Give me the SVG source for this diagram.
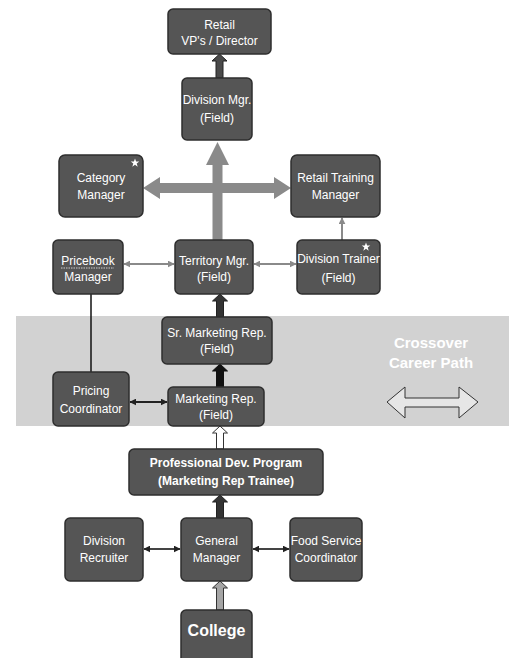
<svg xmlns="http://www.w3.org/2000/svg" width="513" height="658" viewBox="0 0 513 658">
<defs>
<style>
.box{fill:#555555;stroke:#2e2e2e;stroke-width:1.5}
.t{font-family:"Liberation Sans",Arial,sans-serif;font-size:12px;fill:#ffffff;text-anchor:middle}
.b{font-weight:bold}
.thin{stroke:#8a8a8a;stroke-width:2;fill:none}
.blk{stroke:#222;stroke-width:2;fill:none}
</style>
<marker id="ga" viewBox="0 0 10 10" refX="9" refY="5" markerWidth="3.5" markerHeight="3.5" orient="auto-start-reverse"><path d="M0,0 L10,5 L0,10 Z" fill="#8a8a8a"/></marker>
<marker id="ka" viewBox="0 0 10 10" refX="9" refY="5" markerWidth="3.5" markerHeight="3.5" orient="auto-start-reverse"><path d="M0,0 L10,5 L0,10 Z" fill="#222"/></marker>
<polygon id="star" points="0,-4.5 1.1,-1.4 4.3,-1.4 1.7,0.6 2.7,3.7 0,1.8 -2.7,3.7 -1.7,0.6 -4.3,-1.4 -1.1,-1.4" fill="#ffffff"/>
</defs>
<rect x="16" y="316" width="493" height="110" fill="#d2d2d2"/>
<g id="connectors">
<polygon points="216,78 216,61 212,61 219.5,54 227,61 223,61 223,78" fill="#4a4a4a" stroke="#222" stroke-width="1"/>
<path d="M212.5,240 V165 H206 L217.5,142 L229,165 H222.5 V240 Z" fill="#8a8a8a"/>
<path d="M212.5,183 H160 V177 L143,188 L160,199 V193 H222.5 Z" fill="#8a8a8a"/>
<path d="M212.5,183 H274 V177 L291,188 L274,199 V193 H212.5 Z" fill="#8a8a8a"/>
<line class="thin" x1="124" y1="264" x2="174" y2="264" marker-start="url(#ga)" marker-end="url(#ga)"/>
<line class="thin" x1="254" y1="264" x2="296" y2="264" marker-start="url(#ga)" marker-end="url(#ga)"/>
<line class="thin" x1="342" y1="240" x2="342" y2="218" marker-end="url(#ga)"/>
<line x1="91" y1="294" x2="91" y2="372" stroke="#111" stroke-width="1.5"/>
<polygon points="216.5,317 216.5,301 212.5,301 220,294 227.5,301 223.5,301 223.5,317" fill="#333" stroke="#222" stroke-width="1"/>
<polygon points="216.5,387 216.5,371 212.5,371 220,364 227.5,371 223.5,371 223.5,387" fill="#111" stroke="#111" stroke-width="1"/>
<line class="blk" x1="130" y1="402" x2="167" y2="402" marker-start="url(#ka)" marker-end="url(#ka)"/>
<polygon points="216.5,449 216.5,433 212.5,433 220,426 227.5,433 223.5,433 223.5,449" fill="#ffffff" stroke="#333" stroke-width="1"/>
<polygon points="216.5,518 216.5,502 212.5,502 220,495 227.5,502 223.5,502 223.5,518" fill="#333" stroke="#222" stroke-width="1"/>
<line x1="144" y1="549" x2="180" y2="549" stroke="#444" stroke-width="2" marker-start="url(#ka)" marker-end="url(#ka)"/>
<line x1="253" y1="549" x2="289" y2="549" stroke="#444" stroke-width="2" marker-start="url(#ka)" marker-end="url(#ka)"/>
<polygon points="216.5,610 216.5,588 212.5,588 220,581 227.5,588 223.5,588 223.5,610" fill="#a5a5a5" stroke="#333" stroke-width="1"/>
<polygon points="387,402 405,387 405,398 459,398 459,387 478,402 459,418 459,407 405,407 405,418" fill="#e6e6e6" stroke="#333" stroke-width="1"/>
</g>
<g id="vp"><rect class="box" x="168" y="9" width="103" height="45" rx="5"/><text class="t" x="219.5" y="29">Retail</text><text class="t" x="219.5" y="45">VP's / Director</text></g>
<g id="divmgr"><rect class="box" x="182" y="78" width="70" height="62" rx="5"/><text class="t" x="217" y="104">Division Mgr.</text><text class="t" x="217" y="122">(Field)</text></g>
<g id="catmgr"><rect class="box" x="59" y="155" width="84" height="62" rx="6"/><text class="t" x="101" y="182">Category</text><text class="t" x="101" y="199">Manager</text><use href="#star" x="135" y="163"/></g>
<g id="rtm"><rect class="box" x="291" y="155" width="89" height="62" rx="6"/><text class="t" x="335.5" y="182">Retail Training</text><text class="t" x="335.5" y="199">Manager</text></g>
<g id="pricebook"><rect class="box" x="53" y="240" width="70" height="54" rx="5"/><text class="t" x="88" y="265">Pricebook</text><text class="t" x="88" y="281">Manager</text><line x1="61" y1="268" x2="114" y2="268" stroke="#cfcfcf" stroke-width="1" stroke-dasharray="1.5,1"/></g>
<g id="territory"><rect class="box" x="175" y="240" width="78" height="54" rx="5"/><text class="t" x="214" y="265">Territory Mgr.</text><text class="t" x="214" y="281">(Field)</text></g>
<g id="divtrainer"><rect class="box" x="297" y="240" width="83" height="54" rx="5"/><text class="t" x="338.5" y="263">Division Trainer</text><text class="t" x="338.5" y="282">(Field)</text><use href="#star" x="366" y="247"/></g>
<g id="srmr"><rect class="box" x="162" y="317" width="110" height="47" rx="5"/><text class="t" x="217" y="337">Sr. Marketing Rep.</text><text class="t" x="217" y="353">(Field)</text></g>
<g id="pricing"><rect class="box" x="53" y="372" width="76" height="54" rx="5"/><text class="t" x="91" y="395">Pricing</text><text class="t" x="91" y="413">Coordinator</text></g>
<g id="mr"><rect class="box" x="168" y="387" width="96" height="39" rx="5"/><text class="t" x="216" y="403">Marketing Rep.</text><text class="t" x="216" y="419">(Field)</text></g>
<g id="crossover"><text class="t b" x="431" y="348" style="font-size:15px">Crossover</text><text class="t b" x="431" y="368" style="font-size:15px">Career Path</text></g>
<g id="pdp"><rect class="box" x="129" y="449" width="194" height="46" rx="5"/><text class="t b" x="226" y="467">Professional Dev. Program</text><text class="t b" x="226" y="485">(Marketing Rep Trainee)</text></g>
<g id="recruiter"><rect class="box" x="65" y="518" width="78" height="63" rx="5"/><text class="t" x="104" y="545">Division</text><text class="t" x="104" y="562">Recruiter</text></g>
<g id="gm"><rect class="box" x="181" y="518" width="71" height="63" rx="5"/><text class="t" x="216.5" y="545">General</text><text class="t" x="216.5" y="562">Manager</text></g>
<g id="fsc"><rect class="box" x="290" y="518" width="72" height="63" rx="5"/><text class="t" x="326" y="545">Food Service</text><text class="t" x="326" y="562">Coordinator</text></g>
<g id="college"><rect class="box" x="181" y="610" width="71" height="60" rx="5"/><text class="t b" x="216.5" y="636" style="font-size:16px">College</text></g>
</svg>
